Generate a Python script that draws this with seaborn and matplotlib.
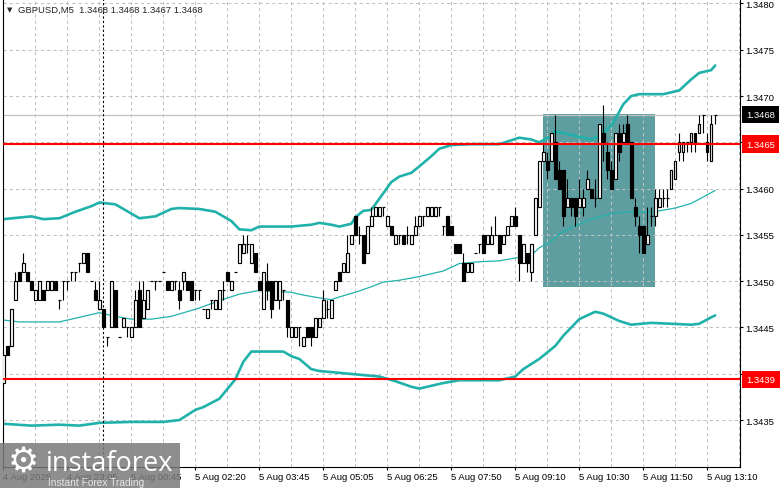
import numpy as np
import pandas as pd
import seaborn as sns
import matplotlib.pyplot as plt
import matplotlib.transforms as mtransforms
from matplotlib.patches import Rectangle

sns.set_style("white")
plt.rcParams['font.family'] = ['Liberation Sans', 'DejaVu Sans']

# GBPUSD M5 bars, 4 Aug late session -> 5 Aug 13:20
opens = [
    1.3439, 1.3443, 1.3443, 1.3448, 1.3451, 1.3451, 1.3451, 1.3450, 1.3448, 1.3448,
    1.3449, 1.3449, 1.3449, 1.3450, 1.3448, 1.3450, 1.3450, 1.3451, 1.3451, 1.3452,
    1.3452, 1.3453, 1.3450, 1.3449, 1.3447, 1.3447, 1.3444, 1.3445, 1.3449, 1.3444,
    1.3445, 1.3445, 1.3444, 1.3445, 1.3449, 1.3446, 1.3447, 1.3450, 1.3450, 1.3450,
    1.3451, 1.3450, 1.3449, 1.3450, 1.3449, 1.3450, 1.3450, 1.3450, 1.3449, 1.3449,
    1.3447, 1.3446, 1.3448, 1.3447, 1.3447, 1.3449, 1.3451, 1.3449, 1.3451, 1.3452,
    1.3453, 1.3454, 1.3452, 1.3453, 1.3450, 1.3447, 1.3450, 1.3450, 1.3448, 1.3448,
    1.3449, 1.3448, 1.3444, 1.3444, 1.3445, 1.3443, 1.3445, 1.3445, 1.3444, 1.3445,
    1.3446, 1.3447, 1.3446, 1.3449, 1.3451, 1.3451, 1.3451, 1.3454, 1.3457, 1.3455,
    1.3455, 1.3453, 1.3456, 1.3457, 1.3457, 1.3458, 1.3456, 1.3456, 1.3454, 1.3455,
    1.3455, 1.3455, 1.3454, 1.3455, 1.3456, 1.3457, 1.3457, 1.3457, 1.3457, 1.3458,
    1.3456, 1.3457, 1.3456, 1.3454, 1.3454, 1.3452, 1.3451, 1.3451, 1.3453, 1.3454,
    1.3455, 1.3454, 1.3454, 1.3455, 1.3455, 1.3454, 1.3455, 1.3456, 1.3457, 1.3455,
    1.3452, 1.3453, 1.3451, 1.3455, 1.3458, 1.3463, 1.3463, 1.3463, 1.3465, 1.3462,
    1.3462, 1.3458, 1.3459, 1.3459, 1.3458, 1.3458, 1.3460, 1.3460, 1.3459, 1.3459,
    1.3466, 1.3464, 1.3462, 1.3461, 1.3466, 1.3465, 1.3467, 1.3465, 1.3458, 1.3456,
    1.3456, 1.3454, 1.3457, 1.3457, 1.3458, 1.3459, 1.3459, 1.3460, 1.3461, 1.3464,
    1.3464, 1.3465, 1.3465, 1.3466, 1.3466, 1.3468, 1.3465, 1.3463, 1.3468,
]
highs = [
    1.3442, 1.3443, 1.3447, 1.3451, 1.3451, 1.3453, 1.3451, 1.3450, 1.3449, 1.3450,
    1.3449, 1.3450, 1.3450, 1.3450, 1.3448, 1.3450, 1.3450, 1.3451, 1.3451, 1.3452,
    1.3453, 1.3453, 1.3450, 1.3450, 1.3450, 1.3447, 1.3444, 1.3450, 1.3449, 1.3444,
    1.3446, 1.3445, 1.3445, 1.3449, 1.3450, 1.3450, 1.3449, 1.3450, 1.3450, 1.3450,
    1.3451, 1.3450, 1.3450, 1.3450, 1.3450, 1.3451, 1.3450, 1.3450, 1.3449, 1.3449,
    1.3447, 1.3447, 1.3448, 1.3448, 1.3449, 1.3450, 1.3451, 1.3450, 1.3451, 1.3454,
    1.3455, 1.3455, 1.3454, 1.3453, 1.3450, 1.3451, 1.3452, 1.3450, 1.3450, 1.3450,
    1.3449, 1.3448, 1.3445, 1.3445, 1.3445, 1.3444, 1.3445, 1.3445, 1.3446, 1.3446,
    1.3449, 1.3448, 1.3448, 1.3450, 1.3451, 1.3452, 1.3455, 1.3455, 1.3457, 1.3456,
    1.3455, 1.3456, 1.3458, 1.3458, 1.3458, 1.3458, 1.3457, 1.3456, 1.3455, 1.3455,
    1.3455, 1.3456, 1.3455, 1.3457, 1.3457, 1.3457, 1.3458, 1.3458, 1.3458, 1.3458,
    1.3456, 1.3457, 1.3456, 1.3454, 1.3454, 1.3453, 1.3452, 1.3452, 1.3453, 1.3454,
    1.3455, 1.3455, 1.3456, 1.3457, 1.3455, 1.3455, 1.3456, 1.3457, 1.3458, 1.3455,
    1.3454, 1.3453, 1.3454, 1.3459, 1.3463, 1.3465, 1.3464, 1.3466, 1.3468, 1.3463,
    1.3462, 1.3461, 1.3459, 1.3459, 1.3461, 1.3460, 1.3462, 1.3460, 1.3461, 1.3467,
    1.3469, 1.3465, 1.3463, 1.3466, 1.3467, 1.3467, 1.3468, 1.3465, 1.3459, 1.3457,
    1.3456, 1.3458, 1.3458, 1.3460, 1.3460, 1.3460, 1.3460, 1.3462, 1.3463, 1.3466,
    1.3465, 1.3465, 1.3466, 1.3466, 1.3468, 1.3468, 1.3466, 1.3468, 1.3468,
]
lows = [
    1.3439, 1.3442, 1.3443, 1.3448, 1.3450, 1.3451, 1.3450, 1.3449, 1.3448, 1.3448,
    1.3448, 1.3449, 1.3449, 1.3449, 1.3447, 1.3448, 1.3449, 1.3450, 1.3450, 1.3451,
    1.3452, 1.3451, 1.3450, 1.3448, 1.3447, 1.3445, 1.3443, 1.3445, 1.3445, 1.3444,
    1.3445, 1.3444, 1.3444, 1.3445, 1.3445, 1.3446, 1.3447, 1.3450, 1.3449, 1.3450,
    1.3451, 1.3449, 1.3449, 1.3449, 1.3447, 1.3449, 1.3449, 1.3448, 1.3448, 1.3448,
    1.3447, 1.3446, 1.3447, 1.3447, 1.3447, 1.3448, 1.3450, 1.3449, 1.3451, 1.3452,
    1.3453, 1.3453, 1.3452, 1.3451, 1.3449, 1.3447, 1.3448, 1.3446, 1.3448, 1.3447,
    1.3448, 1.3444, 1.3444, 1.3444, 1.3443, 1.3443, 1.3444, 1.3443, 1.3444, 1.3445,
    1.3446, 1.3446, 1.3446, 1.3449, 1.3450, 1.3451, 1.3451, 1.3454, 1.3455, 1.3454,
    1.3452, 1.3453, 1.3456, 1.3457, 1.3457, 1.3457, 1.3456, 1.3455, 1.3454, 1.3454,
    1.3454, 1.3454, 1.3454, 1.3455, 1.3456, 1.3456, 1.3457, 1.3457, 1.3457, 1.3457,
    1.3455, 1.3455, 1.3455, 1.3453, 1.3453, 1.3450, 1.3451, 1.3451, 1.3453, 1.3453,
    1.3453, 1.3454, 1.3454, 1.3455, 1.3453, 1.3454, 1.3455, 1.3456, 1.3456, 1.3450,
    1.3452, 1.3451, 1.3450, 1.3455, 1.3458, 1.3463, 1.3461, 1.3463, 1.3461, 1.3460,
    1.3456, 1.3458, 1.3457, 1.3456, 1.3458, 1.3457, 1.3460, 1.3459, 1.3458, 1.3459,
    1.3463, 1.3461, 1.3460, 1.3461, 1.3463, 1.3465, 1.3465, 1.3459, 1.3456, 1.3453,
    1.3453, 1.3454, 1.3456, 1.3456, 1.3458, 1.3458, 1.3458, 1.3460, 1.3461, 1.3463,
    1.3463, 1.3464, 1.3464, 1.3464, 1.3466, 1.3466, 1.3463, 1.3463, 1.3467,
]
closes = [
    1.3442, 1.3442, 1.3447, 1.3450, 1.3450, 1.3452, 1.3450, 1.3449, 1.3449, 1.3450,
    1.3448, 1.3450, 1.3450, 1.3449, 1.3448, 1.3450, 1.3450, 1.3451, 1.3451, 1.3452,
    1.3453, 1.3451, 1.3450, 1.3448, 1.3448, 1.3445, 1.3444, 1.3450, 1.3445, 1.3444,
    1.3446, 1.3445, 1.3445, 1.3448, 1.3445, 1.3448, 1.3449, 1.3450, 1.3450, 1.3450,
    1.3451, 1.3449, 1.3450, 1.3450, 1.3448, 1.3451, 1.3449, 1.3448, 1.3449, 1.3449,
    1.3447, 1.3447, 1.3448, 1.3448, 1.3449, 1.3449, 1.3450, 1.3450, 1.3451, 1.3454,
    1.3454, 1.3454, 1.3454, 1.3451, 1.3449, 1.3451, 1.3449, 1.3447, 1.3450, 1.3450,
    1.3449, 1.3445, 1.3445, 1.3445, 1.3445, 1.3444, 1.3444, 1.3444, 1.3446, 1.3446,
    1.3448, 1.3447, 1.3448, 1.3450, 1.3450, 1.3452, 1.3453, 1.3455, 1.3455, 1.3455,
    1.3452, 1.3456, 1.3457, 1.3458, 1.3458, 1.3458, 1.3457, 1.3455, 1.3455, 1.3455,
    1.3454, 1.3455, 1.3455, 1.3456, 1.3457, 1.3457, 1.3458, 1.3458, 1.3458, 1.3458,
    1.3456, 1.3455, 1.3455, 1.3453, 1.3453, 1.3450, 1.3452, 1.3452, 1.3453, 1.3454,
    1.3453, 1.3455, 1.3455, 1.3455, 1.3453, 1.3455, 1.3456, 1.3457, 1.3456, 1.3452,
    1.3454, 1.3452, 1.3454, 1.3459, 1.3463, 1.3464, 1.3462, 1.3466, 1.3461, 1.3460,
    1.3457, 1.3459, 1.3458, 1.3457, 1.3459, 1.3459, 1.3461, 1.3459, 1.3459, 1.3467,
    1.3465, 1.3462, 1.3460, 1.3466, 1.3464, 1.3466, 1.3465, 1.3459, 1.3457, 1.3455,
    1.3453, 1.3455, 1.3457, 1.3459, 1.3459, 1.3459, 1.3459, 1.3462, 1.3463, 1.3465,
    1.3465, 1.3465, 1.3466, 1.3465, 1.3467, 1.3468, 1.3464, 1.3467, 1.3468,
]

# Bollinger bands (bar index, price)
upper_idx = [0, 7, 10, 14, 18, 22, 24, 28, 32, 34, 38, 42, 44, 49, 53, 57, 59, 62, 64, 72,
             77, 79, 82, 84, 87, 88, 90, 92, 94, 97, 99, 102, 104, 107, 109, 112, 117, 124, 129, 132,
             134, 137, 138, 140, 144, 147, 149, 152, 153, 154, 155, 157, 159, 165, 169, 172, 174, 177, 178]
upper_val = [1.34567, 1.34570, 1.34567, 1.34568, 1.34575, 1.34581, 1.34585, 1.34583, 1.34573, 1.34568,
             1.34570, 1.34578, 1.34579, 1.34578, 1.34575, 1.34565, 1.34556, 1.34555, 1.34559, 1.34559,
             1.34561, 1.34563, 1.34561, 1.34559, 1.34562, 1.34569, 1.34576, 1.34577, 1.34589, 1.34607,
             1.34613, 1.34617, 1.34624, 1.34635, 1.34643, 1.34647, 1.34648, 1.34648, 1.34655, 1.34653,
             1.34650, 1.34657, 1.34662, 1.34660, 1.34656, 1.34653, 1.34657, 1.34668, 1.34675, 1.34683,
             1.34691, 1.34700, 1.34702, 1.34702, 1.34706, 1.34718, 1.34725, 1.34728, 1.34733]
mid_idx = [0, 4, 14, 19, 24, 28, 32, 37, 42, 49, 54, 59, 64, 67, 72, 75, 79, 82, 84, 88,
           92, 95, 99, 104, 110, 114, 119, 124, 128, 132, 134, 137, 139, 143, 147, 152, 157, 162, 164, 168,
           172, 175, 178]
mid_val = [1.34458, 1.34456, 1.34456, 1.34461, 1.34466, 1.34462, 1.34459, 1.34459, 1.34462, 1.34471,
           1.34479, 1.34486, 1.34490, 1.34489, 1.34488, 1.34485, 1.34482, 1.34480, 1.34483, 1.34488,
           1.34494, 1.34499, 1.34501, 1.34505, 1.34511, 1.34519, 1.34521, 1.34522, 1.34525, 1.34528,
           1.34536, 1.34543, 1.34551, 1.34560, 1.34567, 1.34573, 1.34575, 1.34575, 1.34576, 1.34579,
           1.34584, 1.34591, 1.34598]
lower_idx = [0, 7, 14, 19, 24, 32, 40, 44, 48, 50, 54, 58, 60, 62, 64, 70, 72, 74, 77, 79,
             84, 89, 94, 98, 102, 104, 107, 110, 114, 124, 128, 130, 134, 138, 140, 144, 148, 150, 154, 157,
             162, 172, 174, 177, 178]
lower_val = [1.34346, 1.34344, 1.34345, 1.34344, 1.34347, 1.34348, 1.34348, 1.34350, 1.34361, 1.34364,
             1.34373, 1.34394, 1.34413, 1.34424, 1.34424, 1.34424, 1.34419, 1.34416, 1.34405, 1.34403,
             1.34401, 1.34399, 1.34397, 1.34392, 1.34386, 1.34384, 1.34387, 1.34390, 1.34393, 1.34393,
             1.34397, 1.34405, 1.34416, 1.34430, 1.34441, 1.34459, 1.34467, 1.34465, 1.34457, 1.34453,
             1.34455, 1.34453, 1.34454, 1.34461, 1.34463]

time_labels = ["4 Aug 2025", "4 Aug 23:05", "5 Aug 00:45", "5 Aug 02:20", "5 Aug 03:45", "5 Aug 05:05",
               "5 Aug 06:25", "5 Aug 07:50", "5 Aug 09:10", "5 Aug 10:30", "5 Aug 11:50", "5 Aug 13:10"]
price_ticks = [1.3435, 1.3440, 1.3445, 1.3450, 1.3455, 1.3460, 1.3465, 1.3470, 1.3475, 1.3480]

level_prices = [1.34648, 1.34394]
level_labels = ["1.3465", "1.3439"]
bid_price = 1.3468
bid_label = "1.3468"
header = "GBPUSD,M5  1.3468 1.3468 1.3467 1.3468"

zone_start, zone_end = 134.9, 162.9
zone_low, zone_high = 1.34494, 1.34681

band_color = "#20B2AA"
label_size = 6.8

df = pd.DataFrame({"o": opens, "h": highs, "l": lows, "c": closes})
df["i"] = np.arange(len(df))
up = df[df.c > df.o]
dn = df[df.c < df.o]
flat = df[df.c == df.o]

fig = plt.figure(figsize=(7.81, 4.89), dpi=100)
ax = fig.add_axes([3 / 781, 21 / 489, 737 / 781, 468 / 489])

ax.add_patch(Rectangle((zone_start, zone_low), zone_end - zone_start, zone_high - zone_low,
                       facecolor="#5F9EA0", edgecolor="none", zorder=0.2))

sns.lineplot(x=upper_idx, y=upper_val, ax=ax, color=band_color, linewidth=1.9, zorder=2)
sns.lineplot(x=mid_idx, y=mid_val, ax=ax, color=band_color, linewidth=0.9, zorder=2)
sns.lineplot(x=lower_idx, y=lower_val, ax=ax, color=band_color, linewidth=1.9, zorder=2)

ax.axhline(bid_price, color="#c0c0c0", lw=0.9, zorder=1)

# candles
ax.vlines(df.i, df.l, df.h, color="black", lw=0.8, zorder=3)
ax.bar(up.i, up.c - up.o, bottom=up.o, width=0.64, color="white", edgecolor="black", linewidth=0.85, zorder=4)
ax.bar(dn.i, dn.o - dn.c, bottom=dn.c, width=0.64, color="black", edgecolor="black", linewidth=0.85, zorder=4)
ax.hlines(flat.o, flat.i - 0.34, flat.i + 0.34, color="black", lw=0.85, zorder=4)

for p in level_prices:
    ax.axhline(p, color="red", lw=1.5, zorder=5)

ax.axvline(24.9, color="black", ls=(0, (2, 2)), lw=0.8, zorder=5)

ax.set_xlim(-0.1, 184.2)
ax.set_ylim(1.342993, 1.348048)

ax.set_axisbelow(True)
ax.set_xticks(np.arange(0, 177, 16))
ax.set_xticklabels(time_labels, ha="left")
ax.set_xticks(np.arange(0, 185, 8), minor=True)
ax.yaxis.tick_right()
ax.set_yticks(price_ticks)
ax.set_yticklabels([f"{p:.4f}" for p in price_ticks])
ax.grid(True, which="both", color="#c0c0c0", ls=(0, (3, 3)), lw=0.75)
ax.tick_params(axis="x", which="major", bottom=True, length=2, pad=1.5, labelsize=label_size, colors="black")
ax.tick_params(axis="x", which="minor", bottom=False, length=0)
ax.tick_params(axis="y", right=True, left=False, length=2, pad=2, labelsize=label_size, colors="black")

for side in ["left", "right", "bottom"]:
    ax.spines[side].set_color("black")
    ax.spines[side].set_linewidth(0.8)
ax.spines["top"].set_visible(False)

trans = mtransforms.blended_transform_factory(ax.transAxes, ax.transData)
box_items = [(bid_price, bid_label, "black")] + [(p, t, "red") for p, t in zip(level_prices, level_labels)]
for p, t, col in box_items:
    ax.text(1.0085, p, t, transform=trans, color="white", fontsize=label_size, va="center", ha="left",
            bbox=dict(boxstyle="square,pad=0.45", fc=col, ec="none"), zorder=10, clip_on=False)

fig.text(7 / 781, 1 - 10 / 489, "\u25bc", fontsize=5, va="center", ha="left", family="DejaVu Sans")
fig.text(18 / 781, 1 - 10 / 489, header, fontsize=label_size, va="center", ha="left")

# watermark
fig.patches.append(Rectangle((0, 0), 180 / 781, 45 / 489, transform=fig.transFigure,
                             facecolor="#7a7a7a", alpha=0.85, edgecolor="none", zorder=20))
fig.text(23 / 781, 1 - 463 / 489, "\u2699", fontsize=25, color="white", ha="center", va="center",
         family="DejaVu Sans", zorder=21)
fig.text(46 / 781, 1 - 471 / 489, "instaforex", fontsize=19.5, color="white", ha="left", va="baseline",
         family="Open Sans", zorder=21)
fig.text(48 / 781, 1 - 486 / 489, "Instant Forex Trading", fontsize=7.3, color="#e6e6e6", ha="left",
         va="baseline", zorder=21)

fig.savefig("out.png", dpi=100)
